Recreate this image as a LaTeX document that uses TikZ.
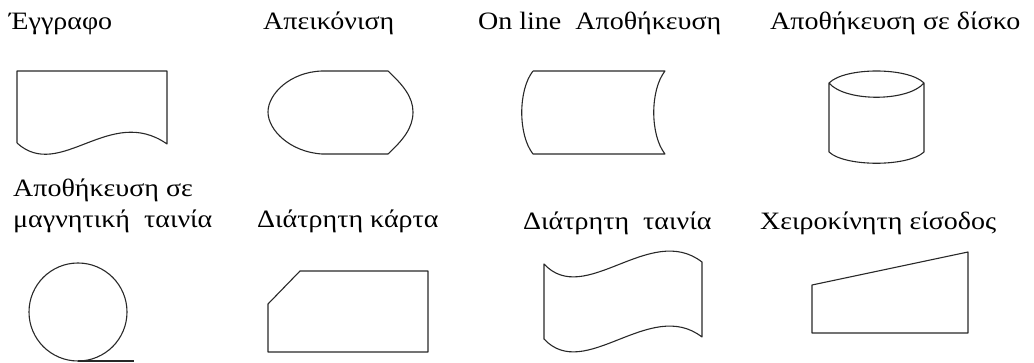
\documentclass[tikz,border=0pt]{standalone}
\usepackage{fontspec}
\setmainfont[FakeStretch=1.12]{Liberation Serif}
\usepackage{tikz}
\usetikzlibrary{positioning}
\definecolor{symLine}{RGB}{40,40,40}
\tikzset{
  sym/shape/.style={draw=symLine, line width=1.1pt, line join=round},
  sym/lbl/.style={anchor=base west, inner sep=0pt,
                  font=\fontsize{25}{30}\selectfont},
}

\begin{document}
\begin{tikzpicture}[x=1pt, y=-1pt]
  \useasboundingbox (0,0) rectangle (1034,363);

  % ---------------- top row: labels ----------------
  \node[sym/lbl] (doclbl)  at (9,30)   {Έγγραφο};
  \node[sym/lbl] (displbl) at (263,30) {Απεικόνιση};
  \node[sym/lbl] (onllbl)  at (478,30) {On line\ \ Αποθήκευση};
  \node[sym/lbl] (disklbl) at (770,30) {Αποθήκευση σε δίσκο};

  % ---------------- top row: symbols ----------------
  % document, wavy lower edge
  \draw[sym/shape] (17,143) -- (17,71) -- (167,71) -- (167,144)
    .. controls (110,104) and (60,182) .. (17,143);
  % display
  \draw[sym/shape] (322,71) -- (388,71)
    .. controls (403,85) and (413,97) .. (413,112)
    .. controls (413,128) and (403,140) .. (388,154) -- (322,154)
    .. controls (290,152) and (268,130) .. (268,112)
    .. controls (268,94) and (290,72) .. (322,71);
  % on line storage
  \draw[sym/shape] (533,71) -- (665,71)
    .. controls (650,90) and (650,135) .. (665,154) -- (533,154)
    .. controls (518,135) and (518,90) .. (533,71);
  % disk
  \draw[sym/shape] (829,83) .. controls (845,67) and (908,67) .. (924,83)
    .. controls (908,102) and (845,102) .. (829,83) -- (829,152)
    .. controls (845,167) and (908,167) .. (924,152) -- (924,83);

  % ---------------- bottom row: labels ----------------
  \node[sym/lbl] (tapelbl)    at (13,197) {Αποθήκευση σε};
  \node[sym/lbl] (tapelbltwo) at (13,228) {μαγνητική\ \ ταινία};
  \node[sym/lbl] (cardlbl)    at (257,228) {Διάτρητη κάρτα};
  \node[sym/lbl] (ptapelbl)   at (523,230) {Διάτρητη\ \ ταινία};
  \node[sym/lbl] (manlbl)     at (760,230) {Χειροκίνητη είσοδος};

  % ---------------- bottom row: symbols ----------------
  % magnetic tape
  \draw[sym/shape] (78,312) circle[radius=49];
  \draw[sym/shape] (78,361) -- (134,361);
  % punched card
  \draw[sym/shape] (300,271) -- (428,271) -- (428,352) -- (268,352)
    -- (268,304) -- cycle;
  % punched tape
  \draw[sym/shape] (544,264) .. controls (585,308) and (650,222) .. (702,262)
    -- (702,337) .. controls (650,297) and (585,383) .. (544,339) -- cycle;
  % manual input
  \draw[sym/shape] (812,285) -- (968,252) -- (968,333) -- (812,333) -- cycle;

\end{tikzpicture}
\end{document}
